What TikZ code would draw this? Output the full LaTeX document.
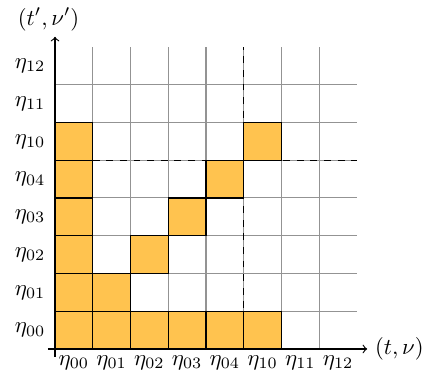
\documentclass[tikz,border=0pt]{standalone}
\usepackage{tikz}
\definecolor{cellfill}{RGB}{255,195,79}
\tikzset{
  gridline/.style={draw=gray!85, line width=0.45pt},
  cellbox/.style={fill=cellfill, draw=black, line width=0.5pt},
  axis/.style={->, line width=0.5pt},
  divider/.style={dashed, line width=0.5pt},
  lab/.style={inner sep=1pt}
}
\begin{document}
\begin{tikzpicture}[x=0.585cm, y=0.585cm]
\useasboundingbox (-1.457,-0.689) rectangle (9.854,9.245);
% grid
\foreach \i in {1,...,7} {
  \draw[gridline] (\i,0) -- (\i,8);
  \draw[gridline] (0,\i) -- (8,\i);
}
% filled cells
\foreach \c/\r in {0/0,1/0,2/0,3/0,4/0,5/0,0/1,1/1,0/2,2/2,0/3,3/3,0/4,4/4,0/5,5/5} {
  \draw[cellbox] (\c,\r) rectangle ++(1,1);
}
% dashed dividers
\draw[divider] (5,0) -- (5,8);
\draw[divider] (1,5) -- (8,5);
% axes
\coordinate (xs) at (-0.19,0);
\coordinate (xe) at (8.27,0);
\coordinate (ys) at (0,-0.21);
\coordinate (ye) at (0,8.27);
\draw[axis] (xs) -- (xe);
\draw[axis] (ys) -- (ye);
\node[lab, right] (xlab) at ([xshift=0.08cm]xe) {$(t,\nu)$};
\node[lab, above] (ylab) at ([xshift=-0.1cm,yshift=0.05cm]ye) {$(t',\nu')$};
% tick labels
\foreach \k/\t in {0/00,1/01,2/02,3/03,4/04,5/10,6/11,7/12} {
  \node[lab] (xl\k) at (\k+0.5,-0.36) {$\eta_{\t}$};
  \node[lab] (yl\k) at (-0.66,\k+0.5) {$\eta_{\t}$};
}
\end{tikzpicture}
\end{document}
